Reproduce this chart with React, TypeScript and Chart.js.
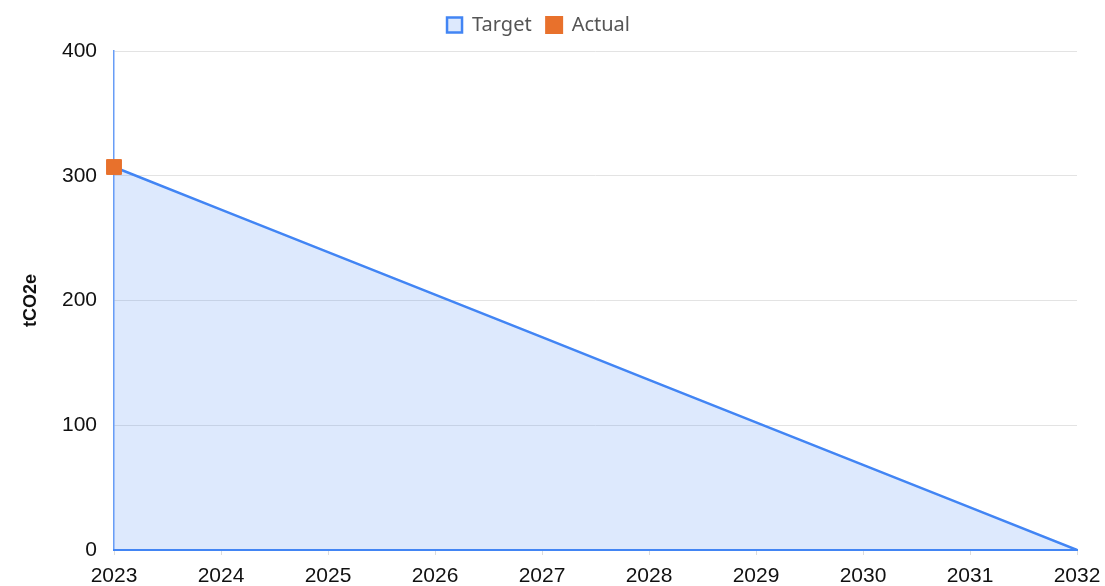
import React, { useEffect, useRef } from "react";
import { Chart, registerables } from "chart.js";

Chart.register(...registerables);

const years = ["2023", "2024", "2025", "2026", "2027", "2028", "2029", "2030", "2031", "2032"];
const targetValues = [307, 272.9, 238.8, 204.7, 170.6, 136.4, 102.3, 68.2, 34.1, 0];
const actualValues: (number | null)[] = [307, null, null, null, null, null, null, null, null, null];
const yTicks = [0, 100, 200, 300, 400];

const BLUE = "rgb(66, 133, 244)";
const BLUE_FILL = "rgba(66, 133, 244, 0.18)";
const ORANGE = "rgb(232, 113, 44)";
const TICK_FONT = { family: "'Liberation Sans', Arial, sans-serif", size: 21 };

const legendSpacer = {
  id: "legendSpacer",
  afterInit(chart: any) {
    const legend = chart.legend;
    if (!legend) return;
    const origFit = legend.fit.bind(legend);
    legend.fit = function () {
      origFit();
      this.height += 6;
    };
  },
};

export default function App() {
  const ref = useRef<HTMLCanvasElement | null>(null);

  useEffect(() => {
    if (!ref.current) return;
    const chart = new Chart(ref.current, {
      type: "line",
      data: {
        labels: years,
        datasets: [
          {
            label: "Target",
            data: targetValues,
            borderColor: BLUE,
            backgroundColor: BLUE_FILL,
            borderWidth: 2.5,
            fill: "origin",
            pointRadius: 0,
            tension: 0,
            order: 2,
          },
          {
            label: "Actual",
            data: actualValues,
            borderColor: ORANGE,
            backgroundColor: ORANGE,
            pointStyle: "rect",
            pointRadius: 10.5,
            pointHoverRadius: 10.5,
            showLine: false,
            clip: false,
            order: 1,
          },
        ],
      },
      plugins: [legendSpacer],
      options: {
        animation: false,
        responsive: false,
        maintainAspectRatio: false,
        layout: { padding: { left: 0, right: 28, top: 0, bottom: 0 } },
        plugins: {
          legend: {
            display: true,
            position: "top",
            labels: {
              boxWidth: 15,
              boxHeight: 15,
              color: "#555",
              padding: 15,
              font: { family: "'Noto Sans', sans-serif", size: 20 },
              sort: (a: any, b: any) => a.datasetIndex - b.datasetIndex,
            },
          },
          tooltip: { enabled: false },
        },
        scales: {
          x: {
            type: "category",
            offset: false,
            border: { display: true, color: BLUE, width: 2 },
            grid: { drawOnChartArea: false, color: "#dddddd", tickLength: 5 },
            ticks: {
              color: "#111",
              padding: 9,
              maxRotation: 0,
              font: TICK_FONT,
            },
            afterFit: (scale: any) => {
              scale.height = 36;
              scale.paddingLeft = 0;
              scale.paddingRight = 0;
            },
          },
          y: {
            min: 0,
            max: 400,
            afterBuildTicks: (scale: any) => {
              scale.ticks = yTicks.map((v) => ({ value: v }));
            },
            border: { display: true, color: "rgba(66,133,244,0.8)", width: 1.5 },
            grid: { color: "#e3e3e3", drawTicks: false },
            ticks: {
              color: "#111",
              padding: 17,
              font: TICK_FONT,
            },
            title: {
              display: true,
              text: "tCO2e",
              color: "#111",
              padding: { top: 20, bottom: 0 },
              font: { family: "'Liberation Sans', Arial, sans-serif", size: 18, weight: "bold" },
            },
            afterFit: (scale: any) => {
              scale.width = 114;
            },
          },
        },
      },
    });
    return () => chart.destroy();
  }, []);

  return (
    <div style={{ position: "fixed", left: 0, top: 0, width: 1105, height: 586, background: "#fff" }}>
      <canvas ref={ref} width={1105} height={586} style={{ width: 1105, height: 586 }} />
    </div>
  );
}
